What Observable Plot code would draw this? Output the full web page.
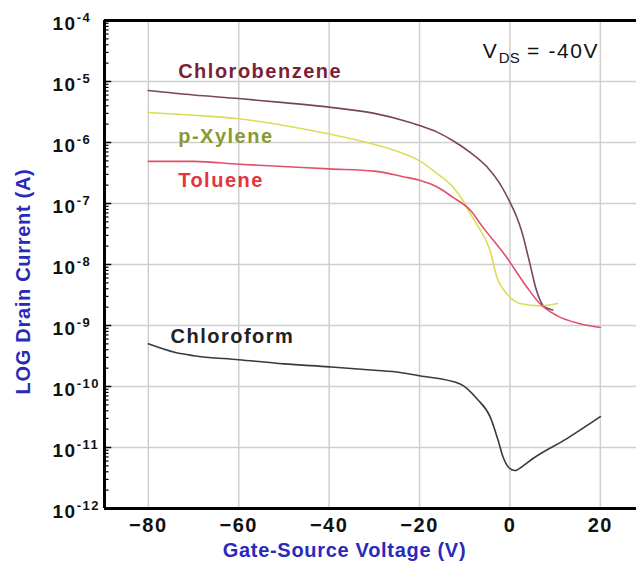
<!DOCTYPE html>
<html><head><meta charset="utf-8">
<script src="https://cdn.jsdelivr.net/npm/d3@7"></script>
<script src="https://cdn.jsdelivr.net/npm/@observablehq/plot@0.6"></script>
<style>
body{margin:0;background:#fff}
#chart svg{display:block}
</style>
</head><body><div id="chart"></div>
<script>
// ---- data ----
const xTicks = [-80, -60, -40, -20, 0, 20];
const yDecades = [1e-12, 1e-11, 1e-10, 1e-9, 1e-8, 1e-7, 1e-6, 1e-5, 1e-4];
const xLabel = "Gate-Source Voltage (V)";
const yLabel = "LOG Drain Current (A)";

const chlorobenzeneV = [-80, -70, -60, -50, -40, -30, -23.6, -20, -16.1, -12.6, -8.8, -5.1, -2.2, 0, 1.5, 2.6, 4.2, 5.9, 7.4, 9.5];
const chlorobenzeneI = [7.1e-6, 6.0e-6, 5.25e-6, 4.5e-6, 3.8e-6, 3.0e-6, 2.3e-6, 1.9e-6, 1.48e-6, 1.07e-6, 6.9e-7, 4.0e-7, 2.1e-7, 1.05e-7, 6.0e-8, 3.5e-8, 1.2e-8, 3.7e-9, 2.1e-9, 1.8e-9];

const xyleneV = [-80, -70, -60, -50, -40, -30, -23.6, -20, -16.1, -12.6, -10.4, -8.8, -7.3, -4.4, -2.9, -0.7, 2.2, 6.6, 10.5];
const xyleneI = [3.1e-6, 2.8e-6, 2.45e-6, 1.9e-6, 1.38e-6, 9.3e-7, 6.6e-7, 5.0e-7, 3.1e-7, 1.86e-7, 1.12e-7, 6.9e-8, 4.5e-8, 1.7e-8, 6.2e-9, 3.3e-9, 2.3e-9, 2.1e-9, 2.3e-9];

const tolueneV = [-80, -70, -60, -40, -30, -23.6, -20, -16.1, -12.6, -8.8, -6, -0.7, 3.8, 6.6, 10.4, 15.5, 20];
const tolueneI = [4.9e-7, 4.9e-7, 4.4e-7, 3.7e-7, 3.4e-7, 2.75e-7, 2.4e-7, 1.86e-7, 1.26e-7, 7.8e-8, 4.1e-8, 1.3e-8, 4.2e-9, 2.3e-9, 1.45e-9, 1.07e-9, 9.3e-10];

const chloroformV = [-80, -74, -70, -60, -50, -40, -30, -24.3, -20, -11, -7.3, -4.4, -2.6, -1.5, 0, 1.1, 2.9, 5.1, 12.6, 20];
const chloroformI = [5.0e-10, 3.6e-10, 3.2e-10, 2.75e-10, 2.35e-10, 2.1e-10, 1.85e-10, 1.7e-10, 1.5e-10, 1.1e-10, 6.3e-11, 3.2e-11, 1.3e-11, 6.9e-12, 4.5e-12, 4.2e-12, 5.0e-12, 6.6e-12, 1.4e-11, 3.2e-11];

const seriesNames = ["Chlorobenzene", "p-Xylene", "Toluene", "Chloroform"];
const lineColors = ["#7a4460", "#dcdc58", "#e0506a", "#3a3a3a"];
const textColors = ["#7e1e34", "#8a9a32", "#e5333f", "#222222"];
const labelX = [-73.4, -73.4, -73.4, -75.1];
const labelY = [1.43e-5, 1.23e-6, 2.33e-7, 6.7e-10];
const vdsText = "VDS = -40V";
const vdsX = -6.0, vdsY = 3.15e-5;

// ---- build tables ----
const seriesV = [chlorobenzeneV, xyleneV, tolueneV, chloroformV];
const seriesI = [chlorobenzeneI, xyleneI, tolueneI, chloroformI];
const rows = [];
seriesNames.forEach((n, k) => seriesV[k].forEach((v, i) => rows.push({name: n, v, i: seriesI[k][i]})));
const labels = seriesNames.map((n, k) => ({name: n, x: labelX[k], y: labelY[k], color: textColors[k]}));
const xDomain = [-89.7, 28];
const minor = [];
for (let e = -12; e < -4; e++) for (let m = 2; m <= 9; m++) minor.push(m * Math.pow(10, e));

const FONT = "'Liberation Sans', Arial, sans-serif";

const plot = Plot.plot({
  width: 636, height: 563,
  marginLeft: 104, marginRight: 0, marginTop: 20, marginBottom: 55,
  style: {fontFamily: FONT, background: "#fff", color: "#111"},
  x: {domain: xDomain},
  y: {type: "log", domain: [1e-12, 1e-4]},
  color: {domain: seriesNames, range: lineColors},
  marks: [
    Plot.gridX(xTicks, {stroke: "#cfcfcf", strokeOpacity: 1, strokeWidth: 1.5}),
    Plot.gridY(yDecades.slice(1, -1), {stroke: "#cfcfcf", strokeOpacity: 1, strokeWidth: 1.5}),
    Plot.line(rows, {x: "v", y: "i", z: "name", stroke: "name", strokeWidth: 1.6, curve: "monotone-x"}),
    Plot.text(labels, {x: "x", y: "y", text: "name", fill: "color", textAnchor: "start",
      fontSize: 20, fontWeight: "bold"}),
    Plot.text([vdsText], {x: () => vdsX, y: () => vdsY, text: d => d, textAnchor: "start",
      fontSize: 21, fill: "#111"}),
    Plot.axisX(xTicks, {tickSize: 0, tickPadding: 9, fontSize: 20, fontWeight: "bold", label: null,
      fill: "#111"}),
    Plot.axisY(yDecades, {tickSize: 0, tickPadding: 0, textAnchor: "start", dx: -52, dy: 3,
      fontSize: 19, fontWeight: "bold", label: null, fill: "#111",
      tickFormat: d => "10^" + Math.round(Math.log10(d))}),
    // inward ticks on the left axis (major and minor)
    Plot.ruleY(yDecades, {x1: () => xDomain[0], x2: () => xDomain[0] + 1.6, stroke: "#000", strokeWidth: 1.5}),
    Plot.ruleY(minor, {x1: () => xDomain[0], x2: () => xDomain[0] + 1.0, stroke: "#000", strokeWidth: 1.2}),
    Plot.ruleY([1e-12], {stroke: "#000", strokeWidth: 3}),
    Plot.ruleY([1e-4], {stroke: "#000", strokeWidth: 3}),
    Plot.ruleX([xDomain[0]], {stroke: "#000", strokeWidth: 3}),
    Plot.text([yLabel], {frameAnchor: "left", text: d => d, rotate: -90, textAnchor: "middle", lineAnchor: "middle",
      dx: -81, dy: 17, fontSize: 20, fontWeight: "bold", fill: "#2a2ab8"}),
    Plot.text([xLabel], {frameAnchor: "bottom", text: d => d, textAnchor: "middle", lineAnchor: "middle",
      dx: -26, dy: 42, fontSize: 20, fontWeight: "bold", fill: "#2a2ab8"})
  ]
});
document.getElementById("chart").append(plot);

const ns = "http://www.w3.org/2000/svg";
// superscript exponents on the y tick labels
plot.querySelectorAll('g[aria-label="y-axis tick label"] text').forEach(t => {
  const s = t.textContent;
  if (!s.startsWith("10^")) return;
  const exp = s.slice(3);
  t.textContent = "10";
  t.style.letterSpacing = "1.5px";
  const sup = document.createElementNS(ns, "tspan");
  sup.setAttribute("dy", "-8");
  sup.setAttribute("font-size", "13");
  sup.textContent = exp;
  t.append(sup);
});
plot.querySelectorAll('g[aria-label="x-axis tick label"] text').forEach(t => t.style.letterSpacing = "1.5px");
// letter spacing of annotation and axis titles
plot.querySelectorAll('text').forEach(t => {
  const s = t.textContent;
  if (seriesNames.includes(s)) t.style.letterSpacing = "1.5px";
  if (s === xLabel || s === yLabel) t.style.letterSpacing = "0.7px";
  if (s === vdsText) {
    t.textContent = "";
    const a = document.createElementNS(ns, "tspan"); a.textContent = "V";
    const b = document.createElementNS(ns, "tspan"); b.textContent = "DS";
    b.setAttribute("font-size", "15"); b.setAttribute("dy", "5"); b.setAttribute("dx", "2");
    const c = document.createElementNS(ns, "tspan"); c.textContent = " = -40V"; c.setAttribute("dy", "-5");
    c.style.letterSpacing = "1.6px";
    t.append(a, b, c);
  }
});
</script>
</body></html>
